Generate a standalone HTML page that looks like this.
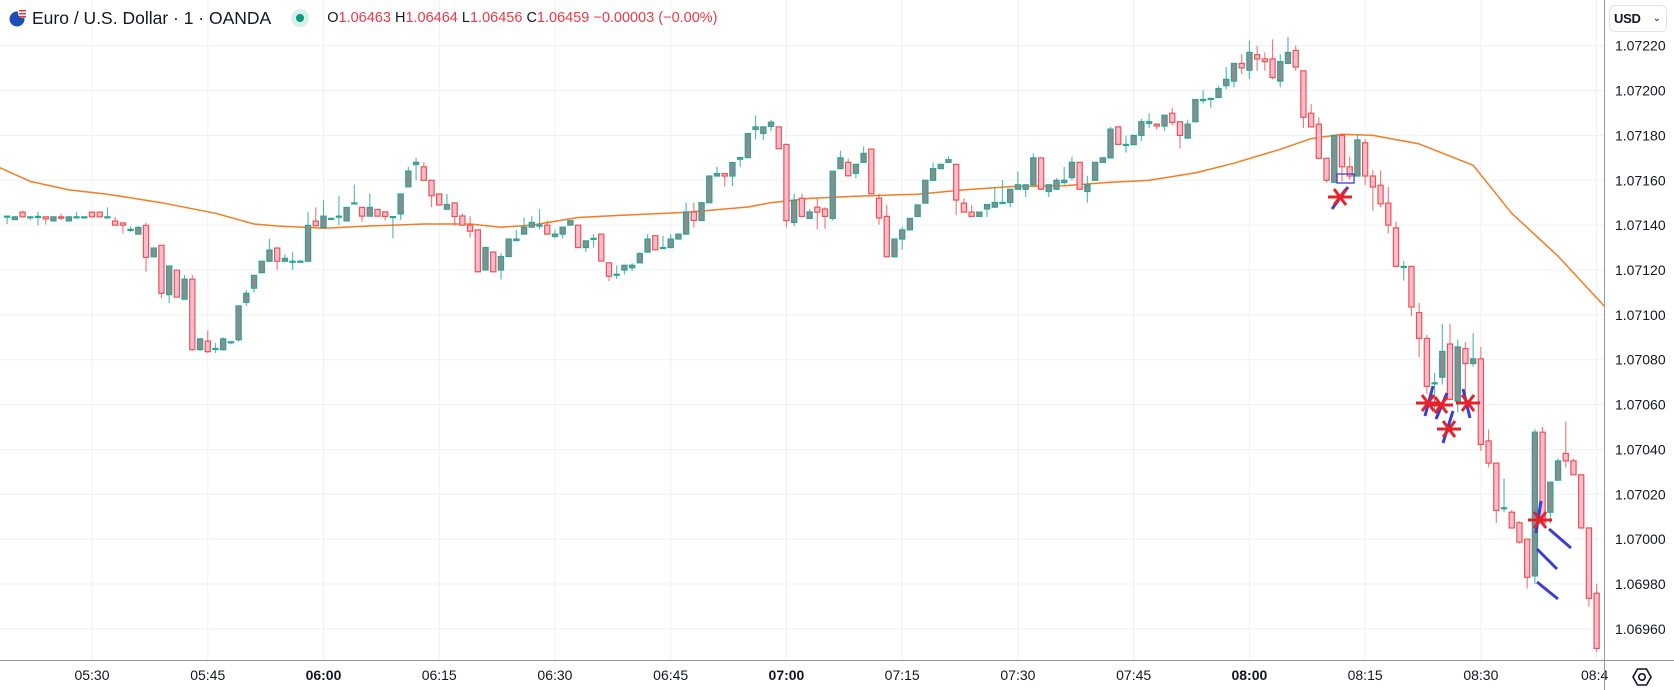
<!DOCTYPE html>
<html><head><meta charset="utf-8">
<style>
html,body{margin:0;padding:0;background:#fff;}
body{width:1674px;height:690px;overflow:hidden;position:relative;font-family:"Liberation Sans",sans-serif;}
svg{position:absolute;left:0;top:0;}
</style></head>
<body>
<svg id="chart" width="1674" height="690" viewBox="0 0 1674 690" xmlns="http://www.w3.org/2000/svg">
  <g id="grid"></g>
  <g id="ma"></g>
  <g id="candles"></g>
  <g id="annot">
    <rect x="1337" y="174" width="17" height="9" fill="none" stroke="#3b3fd0" stroke-width="1.3"/>
    <line x1="1332" y1="209" x2="1348" y2="187" stroke="#3b3fd0" stroke-width="3"/>
    <line x1="1425" y1="416" x2="1433" y2="386" stroke="#3b3fd0" stroke-width="3"/>
    <line x1="1436" y1="419" x2="1447" y2="393" stroke="#3b3fd0" stroke-width="3"/>
    <line x1="1443" y1="443" x2="1453" y2="411" stroke="#3b3fd0" stroke-width="3"/>
    <line x1="1463" y1="389" x2="1470" y2="418" stroke="#3b3fd0" stroke-width="3"/>
    <line x1="1536" y1="533" x2="1541" y2="501" stroke="#3b3fd0" stroke-width="3"/>
    <line x1="1549" y1="529" x2="1571" y2="548" stroke="#3b3fd0" stroke-width="3"/>
    <line x1="1537" y1="549" x2="1557" y2="569" stroke="#3b3fd0" stroke-width="3"/>
    <line x1="1537" y1="582" x2="1558" y2="599" stroke="#3b3fd0" stroke-width="3"/>
  </g>
  <g id="marks"></g>
  <g id="axes"></g>
</svg>

<div style="position:absolute;left:8px;top:6px;height:24px;display:flex;align-items:center;white-space:nowrap;">
  <svg width="20" height="20" viewBox="0 0 20 20" style="position:relative;margin-right:4px;">
    <circle cx="9" cy="11" r="7.5" fill="#1d4fb8"/>
    <circle cx="14.5" cy="5.5" r="4.5" fill="#fff"/>
    <rect x="11" y="2" width="7" height="1.5" fill="#e0373b"/>
    <rect x="11" y="5" width="7" height="1.5" fill="#e0373b"/>
    <rect x="11" y="8" width="7" height="1.5" fill="#e0373b"/>
  </svg>
  <span style="font-size:17.5px;color:#131722;">Euro / U.S. Dollar · 1 · OANDA</span>
  <span style="display:inline-block;width:18px;height:18px;border-radius:50%;background:#d5efe9;margin-left:20px;position:relative;">
    <span style="position:absolute;left:5px;top:5px;width:8px;height:8px;border-radius:50%;background:#089981;"></span>
  </span>
  <span style="font-size:14.5px;color:#f23645;margin-left:18px;">
    <span style="color:#131722">O</span>1.06463 <span style="color:#131722">H</span>1.06464 <span style="color:#131722">L</span>1.06456 <span style="color:#131722">C</span>1.06459 −0.00003 (−0.00%)
  </span>
</div>

<div style="position:absolute;left:1609px;top:5px;width:58px;height:27px;border:1px solid #e0e3eb;border-radius:6px;box-sizing:border-box;font-size:13px;color:#131722;display:flex;align-items:center;justify-content:space-between;padding:0 5px 0 4px;background:#fff;">
  <span style="font-weight:bold;letter-spacing:-0.3px">USD</span><span style="font-size:10px">⌄</span>
</div>

<svg width="24" height="24" viewBox="0 0 24 24" style="left:1630px;top:665px;">
  <polygon points="7.5,4 16.5,4 21,12 16.5,20 7.5,20 3,12" fill="none" stroke="#131722" stroke-width="1.6"/>
  <circle cx="12" cy="12" r="3.2" fill="none" stroke="#131722" stroke-width="1.6"/>
</svg>

<script>
// Prices in points (1e-5) above 1.07000
const opens = [144,142.5,145.8,143.7,143.9,143.7,141.9,143.7,141.9,143.7,143.7,145.8,145.8,143.7,141.8,141,138.1,136,139.9,125.9,131,109,119.9,107,115.9,84.5,88.3,85,84.5,88,88.9,105.6,111.9,118.8,123.9,129.8,123.9,123.9,123.9,123.9,141.8,139,143,144,141.9,149.9,147.9,144,147,145.9,143.8,145,157.1,167,166,160,153.9,147.1,149.9,144.1,140,137.9,120,128,120,126,133.1,136,139.1,140,140,135,136,140,140,130,134.1,136,123.2,118.1,120,121,123.2,128,135.3,130,130,133.8,136,145.9,142.1,150,161.9,163,161.9,169.4,170.1,182.7,180.9,184,183.8,176,141.2,152,143,148,147.2,143,165.2,168,163.1,168,173.9,152,143.9,125.9,133.8,137.9,143.9,149.8,160,165.2,168,167.1,149.8,145.8,143.9,147.2,148,150.1,150.1,156,156,158,170,155,156,159,161.2,168,155,160,168,170,183.8,176,175.9,180,185.4,185,184.2,189.9,186.1,178.8,186.1,196,196.5,196.9,202.2,204.2,212.1,209.1,216,214.1,214.1,204.2,212.1,217.9,208.8,189.9,185,169.8,159.1,180,166,161.9,176.7,161.9,157.8,149.8,138.8,121.6,121.6,101,89.5,69.7,72.2,87,61.5,85,78.3,80.4,43.8,33.9,14,12,7.3,0,-16.4,47.7,12,26.3,38.2,34.9,28.7,5,-24.1];
const highs = [144,144,146.5,143.7,145.9,143.7,143.7,145.2,144,145.9,143.7,145.8,145.8,147.9,143.7,141,139.5,139.5,141,130,131,121.8,120,117.8,117.8,89.5,93.1,87.5,90,88,104,111,117.6,124,133.9,129.8,127.1,128,124.5,145.9,147.9,151.1,143.5,153,147.9,158.1,147.9,154.1,147,145.9,143.8,154,166,170,168,160,153.9,153.9,149.9,145.3,144,138,130.5,128,127.5,134,137.9,143.4,144.1,147.2,142,138,139.1,142,140,133,136,136,123.2,122,122.1,123,128,136,135.3,135.3,136,136,150,150,150,161.9,166,163,167.9,170.1,180.8,188.9,183.8,187,183.8,176,154,154,147.2,152,148,164,173.2,169.6,167.1,175,173.9,154,149,133.8,139.3,143,149,160,168,167.1,170.8,167.1,152,149,145.8,149.2,157,160,156,164,158,172,170,158,161,166,170.5,168,162,168,170,183.8,183.8,180,180,187.4,189.9,185.4,189,192.3,186.1,187,196,200.2,196.5,202.2,210.5,212.1,216.2,222.3,220,217,222.8,216.2,224,220,208.8,194,188.1,169.8,180,180,170.6,180,178.4,164.4,164.4,157,141.6,124,121.6,105.4,91.1,74.2,96,96,89,87.8,91.9,85.7,48.9,33.9,27,13,8,0,49,50,25.4,36,52.5,36,28.7,5,-20];
const lows = [140.5,142.5,143.7,142.2,140,140.3,141.9,142.2,141.9,143.7,143.7,143.7,143.7,143.7,140,136.3,137,136,119.3,125.6,107.4,105.2,107.9,107,84,84,83,83,84,87,88,104,110,118.8,123.9,120,123.9,120,123.9,123.9,139.7,139,142.5,140,141.9,149.9,141.5,144,144,142,134.2,142.4,157.1,160,160,148,149,147.1,139.7,140,134.5,119.2,120,119.2,115.8,126,133.1,136,139.1,138,136,134,134,140,130,128,130,124,115,116,118,119.5,123.2,128,129,130,130,133.8,136,139,142.1,150,161.9,157.1,157.4,166,170.1,178.2,178,182,174.1,139,139.5,143.9,143,138.3,138.3,142,165.2,162,161,168,154,140.2,125.9,125.9,129,137.9,143.9,149.8,160,165.2,168,144.4,145.8,143.9,143.9,143.6,148,150.1,148,156,152.5,158,156,152.5,156,158,160,156,150,160,168,170,176,172.3,175.9,177.5,183.3,182.5,182,184.4,174.2,178.8,186.1,194.3,192.3,196.9,200.6,201.4,207.2,205.2,208.8,208.8,205,201.4,212.1,208.8,183.3,183.8,169.8,159,159.1,159.4,160.2,161.9,158,146.3,148,136.4,121.6,115.3,99.4,81.2,64.8,56.5,68.9,62.3,56.5,64,77,39.3,32,7.3,12,5,-2,-22,-20,7.3,7,26.3,32,28.7,5,-30.1,-50.2];
const closes = [144,143.7,143.7,143.7,143.9,142.8,143.7,143.1,143.7,143.7,143.7,143.7,143.7,143.7,140,140,138.1,139,125.6,129.8,109.6,121.8,107.9,115.9,84.5,89.3,83.6,85,89.3,88,104,109.6,117.6,123.9,128.9,123.9,125.2,123.9,123.9,139.9,139.7,144,143,144,147.9,149.9,144,147.9,144,143.9,143.8,153.9,164.1,168,160,153.1,149,149.2,143.8,140,137.3,119.2,130,119.2,126,133.8,133.8,139.1,141.2,140,136,136,139.1,142,130,133,134.1,124,117.2,118.1,122.1,122.1,127.3,133.8,129,130,133.8,136,145.9,142.1,150,161.9,163,161.9,167.9,170.1,180.8,183.8,183.8,185.9,174.1,142,151.1,143.9,145.9,145.8,143.9,164,170,162,167.1,172,154,143.2,125.9,133.8,137.9,143,149,160,165.2,167.1,169.2,151.2,145.8,143.9,145.8,149.2,150.1,150.1,156,158,158,170,156,158,160,160,168,156,158,168,170,182.8,176,176,180,186.1,186.1,184.2,189,185.8,180,185,196,196,196.5,200.9,205,212.1,210.1,217,214.1,212.9,205.8,212.9,217,210.5,188.1,183.8,169.8,160,180,166,161.9,178,161.9,157,149.5,140,121.6,121.6,103.5,89.5,68.1,69.7,83.7,62.3,85.7,78.3,80.4,42.2,33.9,12.8,14,5,-1.3,-17,47.7,7.3,25.4,34.9,34.9,28.7,5,-26.4,-48.7];
// Moving average samples: candle index and value (points)
const maIndex = [-1,3,8,13,20,27,32,35,41,47,54,60,64,68,74,79,88,96,99,104,110,118,124,130,137,143,148,154,159,165,169,173,177,183,190,195,201,207];
const maValues = [165.7,159.5,155.7,153.8,150,145.3,140.5,139.6,138.6,139.6,140.5,140.5,139.1,140,143.4,144.3,145.7,148.1,150,151.9,152.9,153.8,155.7,157.2,157.6,159.1,160,163.3,167.6,173.8,178.6,180.5,180,176.2,166.7,145.3,126.2,103.9];
const priceTicks = [220,200,180,160,140,120,100,80,60,40,20,0,-20,-40];
const timeLabels = ["05:30","05:45","06:00","06:15","06:30","06:45","07:00","07:15","07:30","07:45","08:00","08:15","08:30","08:45"];
const timeLabelIndex = [11,26,41,56,71,86,101,116,131,146,161,176,191,206];

const NS = "http://www.w3.org/2000/svg";
const PLOT_R = 1604, PLOT_B = 660;
function xOf(i){ return 92 + (i - 11) * 7.716; }
function yOf(u){ return 45.7 + (220 - u) * 2.243; }
function fmt(u){ return (1.07 + u / 100000).toFixed(5); }
function mk(tag, attrs, parent){
  const e = document.createElementNS(NS, tag);
  for (const k in attrs) e.setAttribute(k, attrs[k]);
  parent.appendChild(e);
  return e;
}
const grid = document.getElementById('grid');
const axes = document.getElementById('axes');
const cover = mk('rect', {x:PLOT_R, y:0, width:1674-PLOT_R, height:690, fill:'#fff'}, axes);


priceTicks.forEach(function(t){
  const y = yOf(t);
  const l = mk('line', {x1:0, x2:PLOT_R, y1:y, y2:y, stroke:'#edf0f4', 'stroke-width':1}, grid);
  
  
  const tx = mk('text', {x:1615, y:y+5, 'font-size':14, fill:'#131722', 'font-family':'Liberation Sans, sans-serif'}, axes);
  tx.textContent = fmt(t);
  
  
});
timeLabels.forEach(function(lab, k){
  const x = xOf(timeLabelIndex[k]);
  const l = mk('line', {x1:x, x2:x, y1:0, y2:PLOT_B, stroke:'#edf0f4', 'stroke-width':1}, grid);
  
  
  const bold = lab.endsWith(':00');
  const clipped = x > 1580;
  const tx = mk('text', {x: clipped ? 1581 : x, y:680, 'font-size':14, 'text-anchor': clipped ? 'start' : 'middle', fill:'#131722', 'font-weight':bold?'bold':'normal', 'font-family':'Liberation Sans, sans-serif'}, axes);
  tx.textContent = clipped ? lab.slice(0, 4) : lab;
  
  
});
const bl = mk('line', {x1:0, x2:1674, y1:PLOT_B+0.5, y2:PLOT_B+0.5, stroke:'#9598a1', 'stroke-width':1}, axes);


const vl = mk('line', {x1:PLOT_R+0.5, x2:PLOT_R+0.5, y1:0, y2:690, stroke:'#9598a1', 'stroke-width':1}, axes);



// MA
const maPts = maIndex.map(function(i, k){ return xOf(i).toFixed(1) + ',' + yOf(maValues[k]).toFixed(1); }).join(' ');
const ma = mk('polyline', {points:maPts, fill:'none', stroke:'#f57c1f', 'stroke-width':1.5, 'stroke-linejoin':'round'}, document.getElementById('ma'));



// Candles
const cg = document.getElementById('candles');
closes.forEach(function(c, i){
  const o = opens[i];
  const h = Math.max(highs[i], o, c), l = Math.min(lows[i], o, c);
  const up = c >= o;
  const x = xOf(i);
  const g = mk('g', {}, cg);
  
  
  const col = up ? '#26a69a' : '#ef5350';
  const w = mk('line', {x1:x, x2:x, y1:yOf(h), y2:yOf(l), stroke:col, 'stroke-width':1.2, 'stroke-opacity':0.75}, g);
  
  
  const yt = yOf(Math.max(o, c)), yb = yOf(Math.min(o, c));
  const hh = Math.max(1, yb - yt);
  const b = mk('rect', {x:x-2.6, y:yt, width:5.2, height:hh, fill: up ? '#8c8c8c' : '#f8bbd0', stroke:col, 'stroke-width':1.2}, g);
  
  
});

// Red asterisk markers
const mg = document.getElementById('marks');
const markerXY = [[1340,197],[1428,403],[1441,405],[1449,429],[1468,403],[1540,520]];
markerXY.forEach(function(p){
  const g = mk('g', {stroke:'#e8202a', 'stroke-width':3}, mg);
  
  
  mk('line', {x1:p[0]-12, x2:p[0]+12, y1:p[1], y2:p[1]}, g);
  mk('line', {x1:p[0]-6, x2:p[0]+6, y1:p[1]-8, y2:p[1]+8}, g);
  mk('line', {x1:p[0]+6, x2:p[0]-6, y1:p[1]-8, y2:p[1]+8}, g);
});
</script>
</body></html>
